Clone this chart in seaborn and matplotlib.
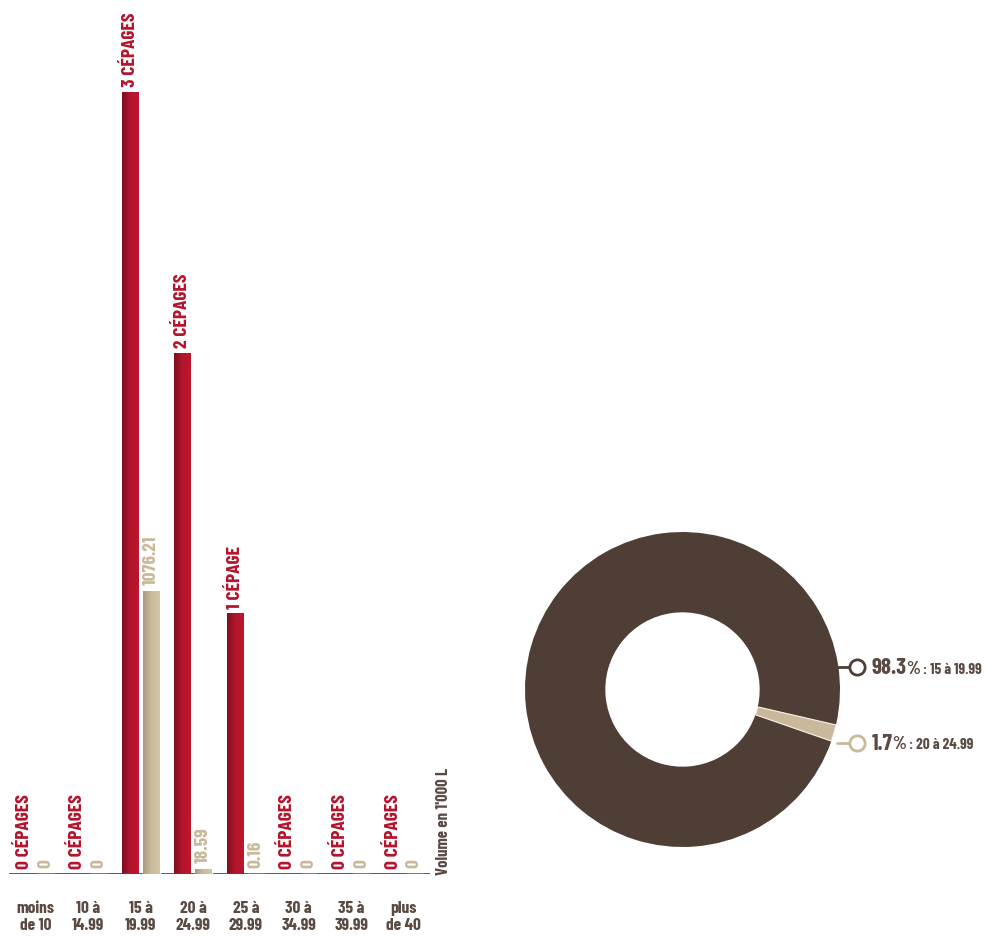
import matplotlib
matplotlib.use("Agg")
import matplotlib.pyplot as plt
from matplotlib import font_manager
from matplotlib.colors import LinearSegmentedColormap
import numpy as np
import seaborn as sns
import pandas as pd

categories = ["moins\nde 10", "10 à\n14.99", "15 à\n19.99", "20 à\n24.99",
              "25 à\n29.99", "30 à\n34.99", "35 à\n39.99", "plus\nde 40"]
cepages = [0, 0, 3, 2, 1, 0, 0, 0]
volumes = [0, 0, 1076.21, 18.59, 0.16, 0, 0, 0]
volume_labels = ["0", "0", "1076.21", "18.59", "0.16", "0", "0", "0"]
pie_shares = [98.3, 1.7]
pie_labels = ["15 à 19.99", "20 à 24.99"]

RED = "#b3142b"
BEIGE = "#c9b99a"
BROWN = "#4f3e36"
TEXT = "#5a4a42"

names = {f.name for f in font_manager.fontManager.ttflist}
fam = "DejaVu Sans"
for cand in ["Barlow Condensed", "Roboto Condensed", "Oswald", "Liberation Sans Narrow"]:
    if cand in names:
        fam = cand
        break

sns.set_style("white")
plt.rcParams["font.family"] = [fam, "DejaVu Sans"]

df = pd.DataFrame({"cat": categories, "cepages": cepages, "volume": volumes})

fig = plt.figure(figsize=(9.9, 9.37), dpi=100)
ax = fig.add_axes([9 / 990, 62 / 937, 421 / 990, 855 / 937])
ax2 = ax.twinx()

sns.barplot(data=df, x="cat", y="cepages", color=RED, width=0.32, ax=ax,
            saturation=1)
sns.barplot(data=df, x="cat", y="volume", color=BEIGE, width=0.32, ax=ax2,
            saturation=1)
off = 0.2
for p in ax.patches:
    p.set_x(p.get_x() - off)
for p in ax2.patches:
    p.set_x(p.get_x() + off)

# horizontal shading inside the bars
red_cm = LinearSegmentedColormap.from_list("r", ["#7d0e1e", "#b5152c", "#bb172e"])
beige_cm = LinearSegmentedColormap.from_list("b", ["#a99b80", "#cbbc9d", "#d3c5a8"])
grad = np.linspace(0, 1, 64).reshape(1, -1)
for a, cm in ((ax, red_cm), (ax2, beige_cm)):
    for p in list(a.patches):
        if p.get_height() <= 0:
            continue
        x0, w, h = p.get_x(), p.get_width(), p.get_height()
        im = a.imshow(grad, cmap=cm, aspect="auto", extent=(x0, x0 + w, 0, h),
                      zorder=p.get_zorder() + 0.1)
        im.set_clip_path(p)
ax.set_ylim(0, 3.28)
ax2.set_ylim(0, 3251)
ax.set_xlim(-0.5, 7.5)

for i, n in enumerate(cepages):
    lab = f"{n} CÉPAGE" if n == 1 else f"{n} CÉPAGES"
    ax.annotate(lab, (i - off, n), xytext=(0, 4), textcoords="offset points",
                rotation=90, ha="center", va="bottom", color=RED,
                fontsize=14, fontweight="bold")
for i, v in enumerate(volumes):
    ax2.annotate(volume_labels[i], (i + off, v), xytext=(0, 5),
                 textcoords="offset points", rotation=90, ha="center",
                 va="bottom", color=BEIGE, fontsize=14, fontweight="bold")

for a in (ax, ax2):
    a.set_yticks([])
    a.set_ylabel("")
    a.set_xlabel("")
    for s in a.spines.values():
        s.set_visible(False)
ax.axhline(0, color="#4a4a4a", lw=2)
ax.tick_params(axis="x", length=0, pad=19)
ax.set_xticks(range(len(categories)))
ax.set_xticklabels(categories, fontsize=12.5, fontweight="bold", color=TEXT,
                   linespacing=1.15)
ax.text(1.015, 0.0, "Volume en 1'000 L", transform=ax.transAxes, rotation=90,
        ha="left", va="bottom", fontsize=12, fontweight="bold", color=TEXT)

# donut
pax = fig.add_axes([525 / 990, 89 / 937, 315 / 990, 315 / 937])
wedges, _ = pax.pie(pie_shares, colors=[BROWN, BEIGE], startangle=-13,
                    counterclock=True, radius=1,
                    wedgeprops=dict(width=0.51, edgecolor="none"))
wedges[1].set_edgecolor("#f4f0e8")
wedges[1].set_linewidth(0.8)
pax.set_xlim(-1, 1)
pax.set_ylim(-1, 1)
pax.set_aspect("equal")

marks = [(0.14, BROWN, 0.955), (-0.337, BEIGE, 0.98)]
for (y, col, x0), share, lab in zip(marks, pie_shares, pie_labels):
    pax.plot([x0, 1.07], [y, y], color=col, lw=2, clip_on=False)
    pax.plot([1.11], [y], marker="o", ms=11, mfc="white", mec=col, mew=2,
             clip_on=False)
    t = pax.annotate(f"{share}", (1.2, y), va="center", ha="left", fontsize=16.5,
                     fontweight="bold", color=TEXT, annotation_clip=False)
    t2 = pax.annotate("%", xycoords=t, xy=(1, 0.5), xytext=(0, -1),
                      textcoords="offset points", va="center", ha="left",
                      fontsize=13, fontweight="bold", color=TEXT)
    pax.annotate(":" + " " + lab, xycoords=t2, xy=(1, 0.5), xytext=(2, 0),
                 textcoords="offset points", va="center", ha="left",
                 fontsize=11, fontweight="bold", color=TEXT)

fig.savefig("out.png", dpi=100)
